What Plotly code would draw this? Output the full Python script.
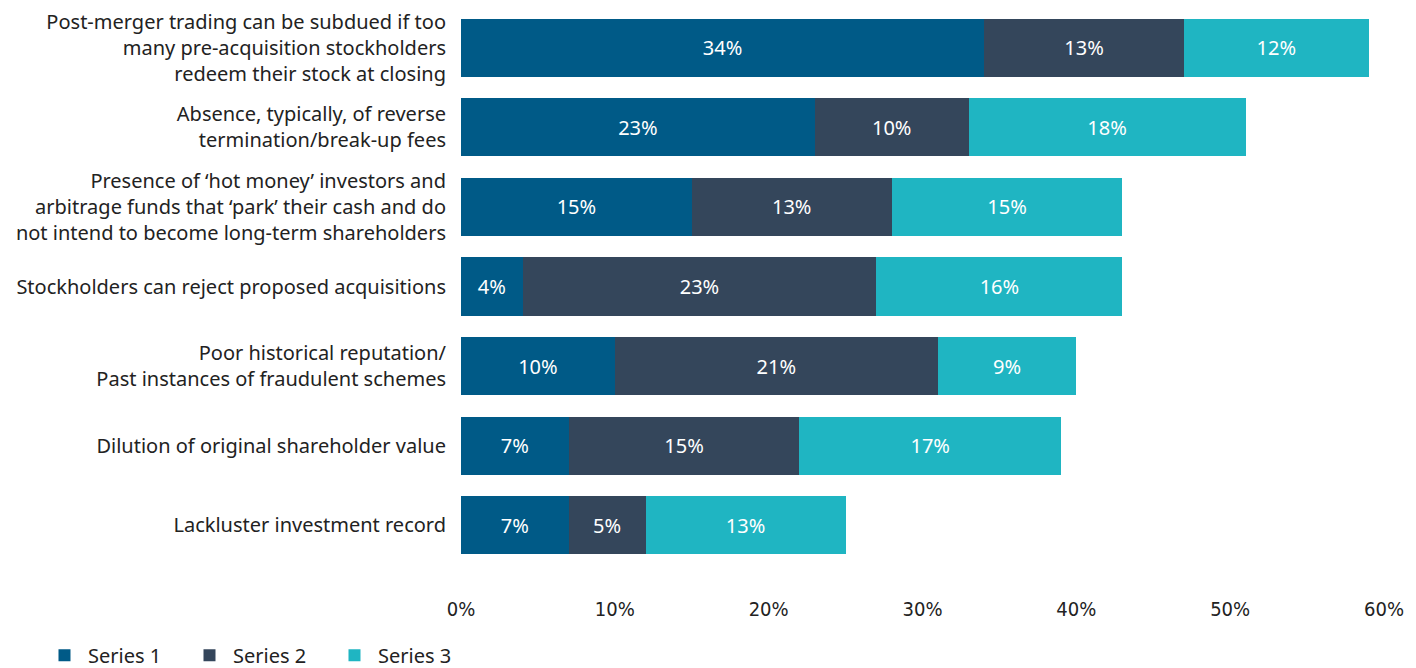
import plotly.graph_objects as go

categories = [
    "Post-merger trading can be subdued if too<br>many pre-acquisition stockholders<br>redeem their stock at closing",
    "Absence, typically, of reverse<br>termination/break-up fees",
    "Presence of ‘hot money’ investors and<br>arbitrage funds that ‘park’ their cash and do<br>not intend to become long-term shareholders",
    "Stockholders can reject proposed acquisitions",
    "Poor historical reputation/<br>Past instances of fraudulent schemes",
    "Dilution of original shareholder value",
    "Lackluster investment record",
]
series_names = ["Series 1", "Series 2", "Series 3"]
series_1 = [34, 23, 15, 4, 10, 7, 7]
series_2 = [13, 10, 13, 23, 21, 15, 5]
series_3 = [12, 18, 15, 16, 9, 17, 13]
colors = ["#005a87", "#34465b", "#1fb5c2"]

fig = go.Figure()

for name, vals, col in zip(series_names, [series_1, series_2, series_3], colors):
    fig.add_trace(go.Bar(
        y=categories,
        x=vals,
        name=name,
        orientation="h",
        marker_color=col,
        marker_line_width=0,
        text=[f"{v}%" for v in vals],
        texttemplate="%{text}",
        textposition="inside",
        insidetextanchor="middle",
        textangle=0,
        insidetextfont=dict(color="white", size=20, family="Noto Sans"),
    ))

# page has an 8px body margin, so the figure is laid out 8px up/left
fig.update_layout(
    barmode="stack",
    bargap=0.27,
    width=1416,
    height=668,
    plot_bgcolor="white",
    paper_bgcolor="white",
    margin=dict(l=453, r=40, t=0, b=111),
    font=dict(family="Noto Sans", size=20, color="#222222"),
    legend=dict(
        orientation="h",
        xref="container",
        yref="container",
        x=0.0233,
        xanchor="left",
        y=0.031,
        yanchor="middle",
        font=dict(size=20, color="#222222"),
        itemwidth=37,
        entrywidth=93,
        traceorder="normal",
    ),
)

fig.update_yaxes(
    autorange="reversed",
    automargin=False,
    showgrid=False,
    showline=False,
    ticks="",
    ticklabelstandoff=14,
)
fig.update_xaxes(
    range=[0, 60],
    dtick=10,
    ticksuffix="%",
    automargin=False,
    showgrid=False,
    zeroline=False,
    showline=False,
    ticklabelstandoff=30,
    tickfont=dict(family="DejaVu Sans Condensed, Liberation Sans Narrow, Noto Sans", size=20, color="#222222"),
)

fig.write_html("out.html")
